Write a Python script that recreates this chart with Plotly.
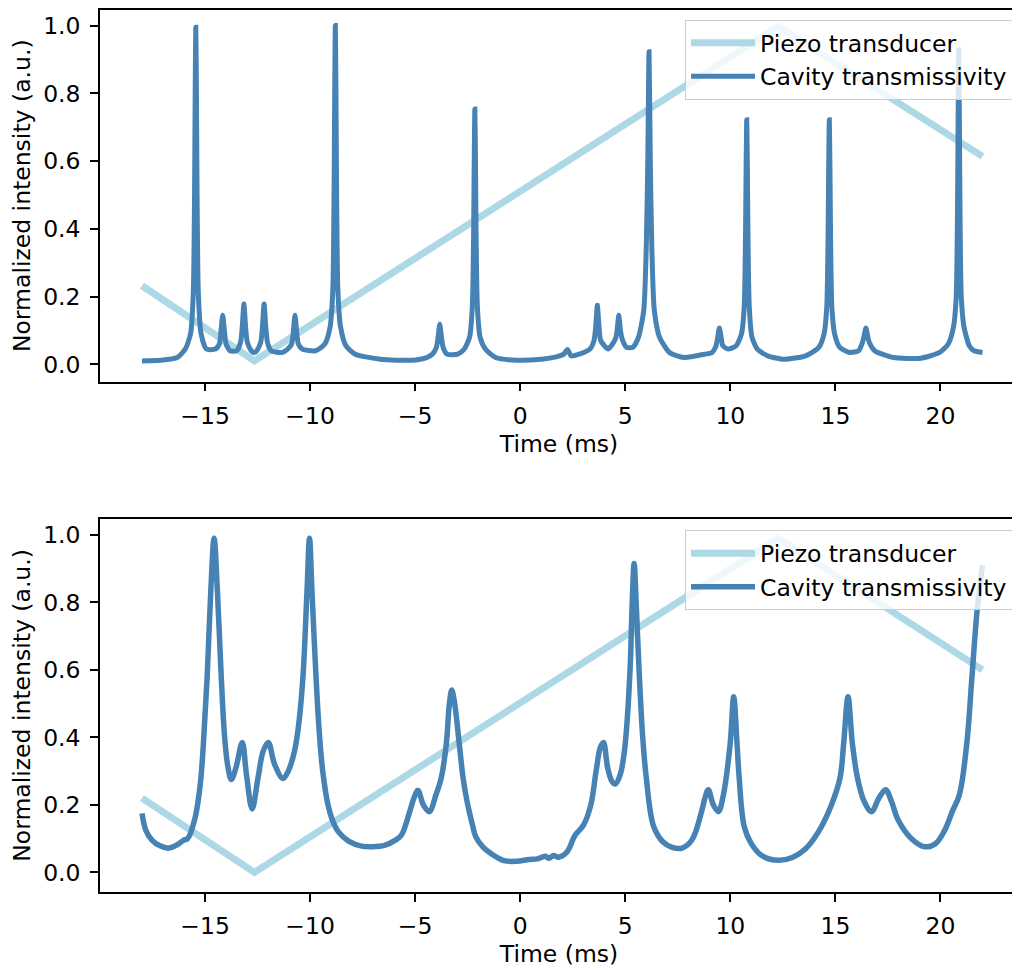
import plotly.graph_objects as go

# ---------------- data ----------------
# Piezo transducer ramp (same scan for both panels)
piezo_t = [-18.0, -12.65, 12.28, 22.0]
piezo_top = [0.232, 0.01, 0.997, 0.614]
piezo_bottom = [0.22, 0.0, 0.99, 0.60]

# Top panel: cavity transmissivity (sharp resonances)
cav_top_t = [
    -18.0, -17.12, -16.32, -15.94, -15.69, -15.56, -15.50, -15.47, -15.44, -15.41,
    -15.38, -15.32, -15.19, -14.94, -14.51, -14.32, -14.24, -14.16, -14.08, -14.00,
    -13.81, -13.50, -13.31, -13.23, -13.15, -13.07, -12.99, -12.80, -12.67, -12.54,
    -12.35, -12.27, -12.19, -12.11, -12.03, -11.85, -11.34, -11.07, -10.88, -10.80,
    -10.72, -10.64, -10.56, -10.37, -9.75, -9.30, -9.05, -8.92, -8.86, -8.83,
    -8.80, -8.77, -8.74, -8.68, -8.55, -8.30, -7.85, -6.65, -5.16, -4.46,
    -4.18, -3.99, -3.91, -3.83, -3.75, -3.67, -3.48, -2.97, -2.66, -2.41,
    -2.28, -2.22, -2.19, -2.16, -2.13, -2.10, -2.04, -1.91, -1.66, -1.17,
    -0.18, 1.02, 1.71, 2.07, 2.25, 2.42, 2.81, 3.32, 3.51, 3.59,
    3.67, 3.75, 3.83, 4.19, 4.53, 4.61, 4.69, 4.77, 4.85, 5.06,
    5.36, 5.63, 5.88, 6.00, 6.07, 6.13, 6.19, 6.26, 6.38, 6.63,
    7.10, 7.80, 8.79, 9.13, 9.32, 9.40, 9.48, 9.56, 9.64, 9.89,
    10.28, 10.53, 10.66, 10.72, 10.75, 10.78, 10.81, 10.84, 10.90, 11.03,
    11.28, 11.78, 12.58, 13.58, 14.21, 14.46, 14.59, 14.65, 14.68, 14.71,
    14.74, 14.77, 14.83, 14.96, 15.21, 15.68, 16.10, 16.29, 16.37, 16.45,
    16.53, 16.61, 16.87, 17.77, 19.06, 19.96, 20.37, 20.62, 20.75, 20.81,
    20.84, 20.87, 20.90, 20.93, 20.99, 21.12, 21.37, 21.60, 22.00,
]
cav_top_v = [
    0.010, 0.012, 0.020, 0.045, 0.090, 0.210, 0.500, 0.800, 0.995, 0.800,
    0.500, 0.210, 0.090, 0.045, 0.045, 0.060, 0.100, 0.145, 0.100, 0.060,
    0.040, 0.040, 0.065, 0.110, 0.178, 0.110, 0.065, 0.040, 0.035, 0.040,
    0.065, 0.110, 0.178, 0.110, 0.065, 0.040, 0.035, 0.045, 0.060, 0.095,
    0.145, 0.095, 0.060, 0.045, 0.040, 0.060, 0.110, 0.220, 0.510, 0.800,
    1.000, 0.800, 0.510, 0.220, 0.110, 0.055, 0.030, 0.015, 0.012, 0.020,
    0.030, 0.050, 0.080, 0.118, 0.080, 0.050, 0.030, 0.030, 0.045, 0.080,
    0.170, 0.380, 0.600, 0.754, 0.600, 0.380, 0.170, 0.080, 0.045, 0.020,
    0.012, 0.015, 0.022, 0.030, 0.044, 0.025, 0.030, 0.045, 0.070, 0.110,
    0.174, 0.110, 0.070, 0.045, 0.075, 0.100, 0.145, 0.100, 0.075, 0.050,
    0.050, 0.080, 0.160, 0.350, 0.600, 0.923, 0.600, 0.350, 0.160, 0.080,
    0.035, 0.020, 0.030, 0.035, 0.055, 0.080, 0.107, 0.080, 0.055, 0.045,
    0.055, 0.090, 0.170, 0.370, 0.580, 0.722, 0.580, 0.370, 0.170, 0.080,
    0.045, 0.025, 0.015, 0.025, 0.050, 0.090, 0.170, 0.370, 0.580, 0.722,
    0.580, 0.370, 0.170, 0.090, 0.050, 0.035, 0.040, 0.065, 0.085, 0.107,
    0.085, 0.065, 0.040, 0.020, 0.018, 0.035, 0.060, 0.110, 0.200, 0.450,
    0.720, 0.928, 0.720, 0.450, 0.200, 0.110, 0.055, 0.040, 0.035,
]

# Bottom panel: cavity transmissivity (broad resonances)
cav_bot_t = [
    -18.0, -17.82, -17.52, -17.12, -16.72, -16.32, -16.03, -15.83, -15.48, -15.23,
    -15.08, -14.90, -14.73, -14.57, -14.41, -14.23, -14.08, -13.93, -13.75, -13.53,
    -13.23, -13.03, -12.76, -12.48, -12.23, -11.99, -11.69, -11.29, -11.04, -10.74,
    -10.54, -10.34, -10.15, -10.03, -9.91, -9.72, -9.57, -9.40, -9.15, -8.95,
    -8.65, -8.15, -7.55, -7.05, -6.46, -5.96, -5.66, -5.26, -5.06, -4.87,
    -4.61, -4.33, -4.01, -3.76, -3.52, -3.37, -3.26, -3.12, -2.90, -2.72,
    -2.53, -2.27, -2.12, -1.77, -1.37, -0.77, -0.18, 0.42, 0.82, 1.19,
    1.37, 1.59, 1.82, 2.22, 2.61, 3.01, 3.36, 3.61, 3.81, 3.96,
    4.16, 4.36, 4.52, 4.76, 4.96, 5.10, 5.24, 5.33, 5.42, 5.53,
    5.67, 5.83, 6.00, 6.35, 6.80, 7.20, 7.70, 8.17, 8.63, 8.79,
    8.95, 9.19, 9.43, 9.67, 9.99, 10.16, 10.32, 10.42, 10.66, 10.99,
    11.49, 12.28, 12.98, 13.58, 14.19, 14.81, 15.22, 15.39, 15.60,
    15.81, 16.05, 16.37, 16.72, 17.07, 17.39, 17.67, 17.98, 18.62, 19.26,
    19.76, 20.21, 20.56, 20.90, 21.25, 21.50, 21.75, 22.0,
]
cav_bot_v = [
    0.175, 0.125, 0.095, 0.078, 0.072, 0.082, 0.095, 0.100, 0.160, 0.260,
    0.380, 0.580, 0.830, 0.990, 0.830, 0.580, 0.410, 0.320, 0.275, 0.310,
    0.385, 0.290, 0.188, 0.280, 0.360, 0.385, 0.320, 0.278, 0.300, 0.360,
    0.440, 0.580, 0.830, 0.990, 0.830, 0.580, 0.420, 0.300, 0.200, 0.157,
    0.120, 0.092, 0.078, 0.076, 0.080, 0.095, 0.110, 0.180, 0.220, 0.243,
    0.200, 0.180, 0.230, 0.280, 0.380, 0.500, 0.540, 0.500, 0.380, 0.280,
    0.210, 0.140, 0.106, 0.075, 0.055, 0.035, 0.033, 0.038, 0.040, 0.048,
    0.042, 0.050, 0.045, 0.060, 0.110, 0.140, 0.200, 0.300, 0.370, 0.385,
    0.310, 0.270, 0.262, 0.290, 0.360, 0.460, 0.620, 0.800, 0.915, 0.780,
    0.580, 0.400, 0.280, 0.136, 0.090, 0.075, 0.072, 0.096, 0.180, 0.220,
    0.245, 0.200, 0.180, 0.230, 0.380, 0.520, 0.380, 0.280, 0.136, 0.086,
    0.050, 0.036, 0.045, 0.070, 0.120, 0.200, 0.280, 0.380, 0.520,
    0.380, 0.280, 0.210, 0.180, 0.220, 0.245, 0.210, 0.156, 0.100, 0.076,
    0.085, 0.126, 0.180, 0.230, 0.380, 0.580, 0.780, 0.910,
]

x_ticks = [-15, -10, -5, 0, 5, 10, 15, 20]
y_ticks = [0.0, 0.2, 0.4, 0.6, 0.8, 1.0]
y_tick_text = ["0.0", "0.2", "0.4", "0.6", "0.8", "1.0"]

PIEZO_COLOR = "#ADD8E6"
CAVITY_COLOR = "#4682B4"
FONT = "DejaVu Sans"
FS = 23.5

# ---------------- figure ----------------
fig = go.Figure()

fig.add_trace(go.Scatter(x=piezo_t, y=piezo_top, mode="lines", name="Piezo transducer",
                         line=dict(color=PIEZO_COLOR, width=7),
                         xaxis="x", yaxis="y", legend="legend"))
fig.add_trace(go.Scatter(x=cav_top_t, y=cav_top_v, mode="lines", name="Cavity transmissivity",
                         line=dict(color=CAVITY_COLOR, width=5, shape="spline", smoothing=0.6),
                         xaxis="x", yaxis="y", legend="legend"))
fig.add_trace(go.Scatter(x=piezo_t, y=piezo_bottom, mode="lines", name="Piezo transducer",
                         line=dict(color=PIEZO_COLOR, width=7),
                         xaxis="x2", yaxis="y2", legend="legend2"))
fig.add_trace(go.Scatter(x=cav_bot_t, y=cav_bot_v, mode="lines", name="Cavity transmissivity",
                         line=dict(color=CAVITY_COLOR, width=5.5, shape="spline", smoothing=1.0),
                         xaxis="x2", yaxis="y2", legend="legend2"))

axis_common = dict(
    showline=True, linecolor="black", linewidth=1.6, mirror=True,
    ticks="outside", ticklen=8, tickwidth=1.6, tickcolor="black",
    showgrid=False, zeroline=False,
    tickfont=dict(family=FONT, size=FS, color="black"),
)

xa = dict(axis_common, range=[-20, 23.69], tickvals=x_ticks, ticklabelstandoff=4,
          title=dict(text="Time (ms)", font=dict(family=FONT, size=FS, color="black"), standoff=6))
ya = dict(axis_common, tickvals=y_ticks, ticktext=y_tick_text, ticklabelstandoff=5,
          title=dict(text="Normalized intensity (a.u.)",
                     font=dict(family=FONT, size=FS, color="black"), standoff=12))

legend_common = dict(
    bgcolor="rgba(255,255,255,0.8)", bordercolor="#cccccc", borderwidth=1,
    font=dict(family=FONT, size=FS, color="black"),
    xanchor="right", yanchor="top", itemwidth=64,
)

# page body has an 8px margin: figure is sized to end exactly at the window edge
fig.update_layout(
    width=1012, height=962,
    margin=dict(l=92, r=0, t=1, b=78),
    paper_bgcolor="white", plot_bgcolor="white",
    font=dict(family=FONT, size=FS, color="black"),
    xaxis=dict(xa, domain=[0, 1], anchor="y"),
    yaxis=dict(ya, domain=[0.5787, 1.0], anchor="x", range=[-0.051, 1.046]),
    xaxis2=dict(xa, domain=[0, 1], anchor="y2"),
    yaxis2=dict(ya, domain=[0.0, 0.423], anchor="x2", range=[-0.058, 1.047]),
    legend=dict(legend_common, x=0.9946, y=0.9887),
    legend2=dict(legend_common, x=0.9946, y=0.41),
    showlegend=True,
)

fig.write_html("out.html")
